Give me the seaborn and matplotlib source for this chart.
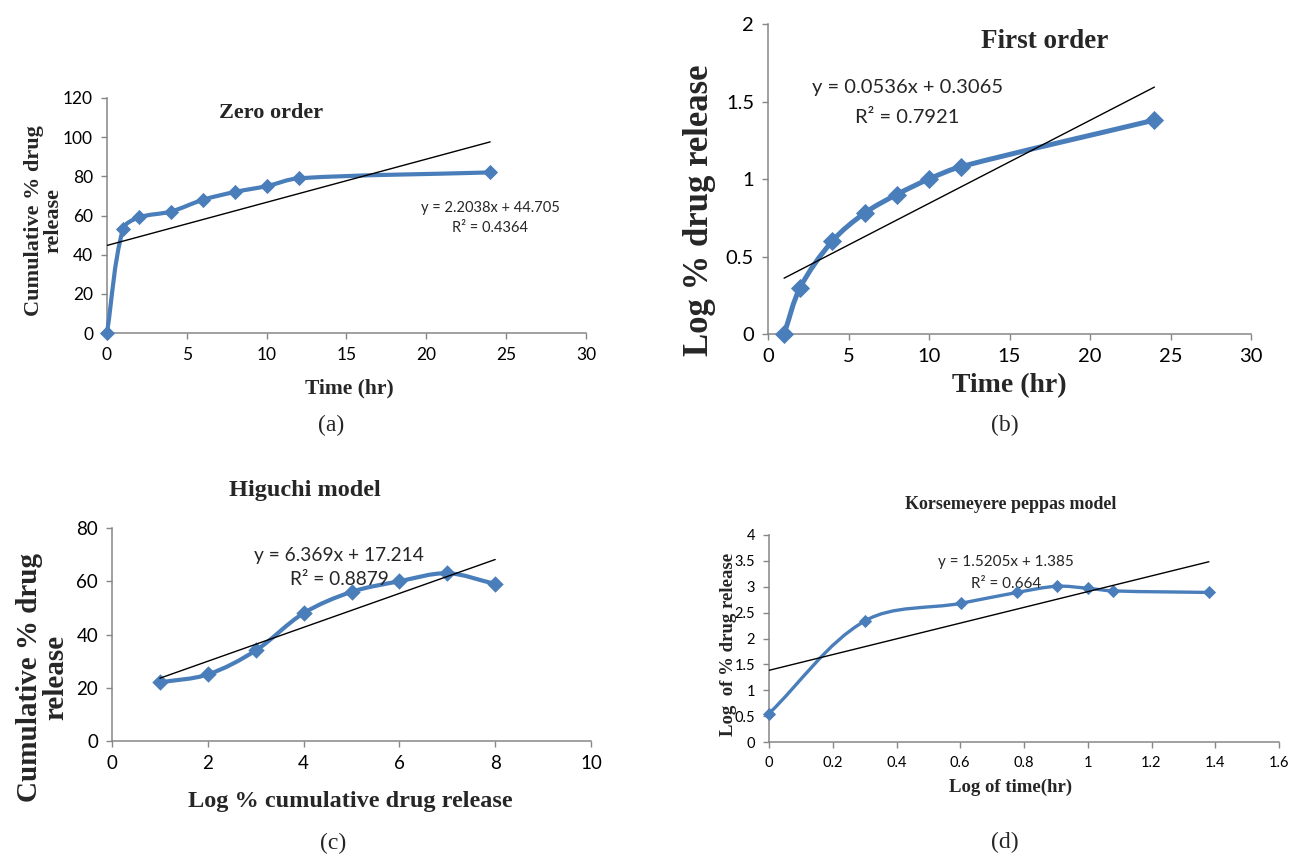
import numpy as np
import matplotlib
matplotlib.use("Agg")
import matplotlib.pyplot as plt
from matplotlib.path import Path
from matplotlib.patches import PathPatch
import seaborn as sns

# (a) zero order
zero_time = [0, 1, 2, 4, 6, 8, 10, 12, 24]
zero_release = [0, 53, 59, 62, 68, 72, 75, 79, 82]
# (b) first order
first_time = [1, 2, 4, 6, 8, 10, 12, 24]
first_log_release = [0, 0.30, 0.60, 0.78, 0.90, 1.00, 1.08, 1.38]
# (c) higuchi
higuchi_x = [1, 2, 3, 4, 5, 6, 7, 8]
higuchi_release = [22, 25, 34, 48, 56, 60, 63, 59]
# (d) korsmeyer peppas
kp_log_time = [0, 0.301, 0.602, 0.778, 0.903, 1.0, 1.079, 1.380]
kp_log_release = [0.55, 2.34, 2.68, 2.89, 3.01, 2.97, 2.92, 2.89]

# trendline (slope, intercept) and labels
fits = {
    "a": (2.2038, 44.705, "y = 2.2038x + 44.705", "R² = 0.4364"),
    "b": (0.0536, 0.3065, "y = 0.0536x + 0.3065", "R² = 0.7921"),
    "c": (6.369, 17.214, "y = 6.369x + 17.214", "R² = 0.8879"),
    "d": (1.5205, 1.385, "y = 1.5205x + 1.385", "R² = 0.664"),
}

BLUE = "#4a7ebb"
GREY = "#868686"
SANS = ["Lato", "DejaVu Sans"]
SERIF = ["Liberation Serif", "DejaVu Serif"]

sns.set_theme(style="white")
plt.rcParams["font.family"] = SANS


def smooth_curve(ax, xs, ys, lw):
    # excel-like smoothed line: bezier segments built in screen space
    pts = ax.transData.transform(np.column_stack([xs, ys]))
    n = len(pts)
    tang = np.zeros_like(pts)
    for i in range(n):
        a = pts[max(i - 1, 0)]
        b = pts[min(i + 1, n - 1)]
        d = b - a
        tang[i] = d / np.hypot(*d)
    verts = [pts[0]]
    codes = [Path.MOVETO]
    for i in range(n - 1):
        seg = np.hypot(*(pts[i + 1] - pts[i])) * 0.33
        verts += [pts[i] + tang[i] * seg, pts[i + 1] - tang[i + 1] * seg, pts[i + 1]]
        codes += [Path.CURVE4] * 3
    verts = ax.transData.inverted().transform(np.array(verts))
    ax.add_patch(PathPatch(Path(verts, codes), fill=False, ec=BLUE, lw=lw,
                           capstyle="round", joinstyle="round", zorder=3,
                           clip_on=False))


def panel(rect, xs, ys, key, xlim, ylim, xticks, yticks, tick_fs, lw, ms,
          title, title_fs, title_xy, xlabel, xlabel_fs, xlabel_xy,
          ylabel, ylabel_fs, ylabel_xy, eq_fs, eq_xy, r2_y, tag, tag_xy):
    ax = fig.add_axes(rect)
    ax.set_xlim(*xlim)
    ax.set_ylim(*ylim)
    ax.set_xticks(xticks)
    ax.set_yticks(yticks)
    ax.set_xticklabels([f"{t:g}" for t in xticks])
    ax.set_yticklabels([f"{t:g}" for t in yticks])
    for s in ["top", "right"]:
        ax.spines[s].set_visible(False)
    for s in ["left", "bottom"]:
        ax.spines[s].set_color(GREY)
        ax.spines[s].set_linewidth(1.1)
    ax.tick_params(direction="out", length=4, width=1, color=GREY,
                   labelsize=tick_fs, labelcolor="black", pad=6,
                   bottom=True, left=True)

    smooth_curve(ax, xs, ys, lw)
    sns.scatterplot(x=xs, y=ys, ax=ax, marker="D", s=ms, color=BLUE,
                    edgecolor=BLUE, linewidth=0, zorder=4, clip_on=False)

    slope, icpt, eq, r2 = fits[key]
    tx = np.array([min(xs), max(xs)])
    sns.lineplot(x=tx, y=slope * tx + icpt, ax=ax, color="black", lw=1.0,
                 zorder=5)

    ax.text(*eq_xy, eq, transform=ax.transAxes, ha="center", va="center",
            fontsize=eq_fs)
    ax.text(eq_xy[0], r2_y, r2, transform=ax.transAxes, ha="center",
            va="center", fontsize=eq_fs)

    ax.set_title(title, x=title_xy[0], y=title_xy[1], va="center", pad=0,
                 fontsize=title_fs, fontweight="bold", family=SERIF)
    ax.set_xlabel(xlabel, fontsize=xlabel_fs, fontweight="bold", family=SERIF,
                  va="center")
    ax.xaxis.set_label_coords(*xlabel_xy)
    ax.set_ylabel(ylabel, fontsize=ylabel_fs, fontweight="bold", family=SERIF,
                  va="center", ha="center", linespacing=1.0)
    ax.yaxis.set_label_coords(*ylabel_xy)
    fig.text(*tag_xy, tag, ha="center", va="center", fontsize=17,
             family=SERIF)
    return ax


W, H = 1294, 857
fig = plt.figure(figsize=(W / 100, H / 100), dpi=100)


def rect(l, t, r, b):
    return [l / W, 1 - b / H, (r - l) / W, (b - t) / H]


panel(rect(107, 98, 586, 333), zero_time, zero_release, "a",
      (0, 30), (0, 120), range(0, 31, 5), range(0, 121, 20), 12.5, 3.0, 60,
      "Zero order", 16, (0.342, 0.936),
      "Time (hr)", 15.5, (0.507, -0.234),
      "Cumulative % drug\nrelease", 16, (-0.132, 0.48),
      10.5, (0.80, 0.532), 0.447, "(a)", (331 / W, 1 - 425 / H))

panel(rect(768, 24, 1251, 334), first_time, first_log_release, "b",
      (0, 30), (0, 2), range(0, 31, 5), [0, 0.5, 1, 1.5, 2], 14.5, 3.6, 95,
      "First order", 19.5, (0.573, 0.942),
      "Time (hr)", 20, (0.50, -0.165),
      "Log % drug release", 25, (-0.141, 0.40),
      14.5, (0.288, 0.794), 0.70, "(b)", (1005 / W, 1 - 425 / H))

panel(rect(112, 528, 591, 741), higuchi_x, higuchi_release, "c",
      (0, 10), (0, 80), range(0, 11, 2), range(0, 81, 20), 13.5, 3.0, 70,
      "Higuchi model", 17.5, (0.403, 1.178),
      "Log % cumulative drug release", 17.5, (0.497, -0.286),
      "Cumulative % drug\nrelease", 21, (-0.145, 0.30),
      13.8, (0.474, 0.869), 0.756, "(c)", (333 / W, 1 - 843 / H))

panel(rect(769, 535, 1279, 742), kp_log_time, kp_log_release, "d",
      (0, 1.6), (0, 4), [0, 0.2, 0.4, 0.6, 0.8, 1, 1.2, 1.4, 1.6],
      [0, 0.5, 1, 1.5, 2, 2.5, 3, 3.5, 4], 10.5, 2.4, 45,
      "Korsemeyere peppas model", 13, (0.473, 1.145),
      "Log of time(hr)", 13.5, (0.473, -0.217),
      "Log  of % drug release", 13.5, (-0.080, 0.47),
      11, (0.465, 0.870), 0.763, "(d)", (1005 / W, 1 - 842 / H))

fig.savefig("out.png", dpi=100, facecolor="white")
